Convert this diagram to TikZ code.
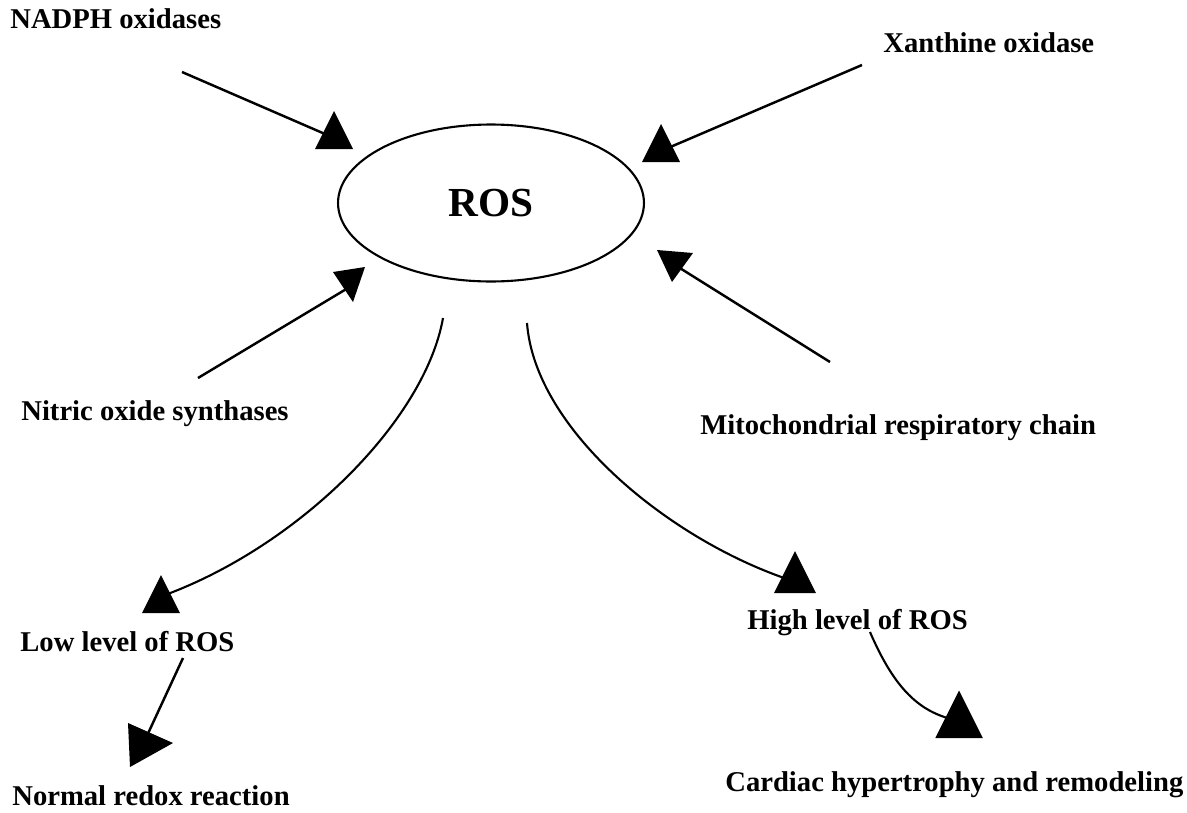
\documentclass[tikz,border=0pt]{standalone}
\usepackage{fontspec}
\setmainfont{Liberation Serif}
\usetikzlibrary{shapes.geometric}

\tikzset{
  caption/.style={anchor=base west, inner sep=0pt, font=\fontsize{16.3}{18}\selectfont\bfseries},
  link/.style={line width=1.4pt},
  curvelink/.style={line width=1.2pt},
  pics/head/.style={code={\fill (-19,0) -- (19,0) -- (0,-38) -- cycle;}}
}

\begin{document}
\begin{tikzpicture}[x=0.02cm, y=-0.02cm]
  \useasboundingbox (0,0) rectangle (1187,812);

  \node [draw, ellipse, line width=1.2pt, minimum width=6.12cm, minimum height=3.14cm,
         font=\fontsize{23.5}{26}\selectfont\bfseries] (ros) at (491,203) { ROS };

  \node [caption] (nadph) at (10,28) { NADPH oxidases };
  \node [caption] (xanthine) at (883,52) { Xanthine oxidase };
  \node [caption] (nos) at (21,420) { Nitric oxide synthases };
  \node [caption] (mito) at (700,434) { Mitochondrial respiratory chain };
  \node [caption] (low) at (20,651) { Low level of ROS };
  \node [caption] (high) at (747,629) { High level of ROS };
  \node [caption] (normal) at (12,805) { Normal redox reaction };
  \node [caption] (cardiac) at (725,791) { Cardiac hypertrophy and remodeling };

  % arrow ends
  \coordinate (sNadph) at (182,72);    \coordinate (eNadph) at (325,134);
  \coordinate (sXan) at (862,65);      \coordinate (eXan) at (668,148);
  \coordinate (sNos) at (198,378);     \coordinate (eNos) at (348,288);
  \coordinate (sMito) at (830,362);    \coordinate (eMito) at (675,265);
  \coordinate (sLow) at (443,318);     \coordinate (eLow) at (165,595);
  \coordinate (sHigh) at (527,323);    \coordinate (eHigh) at (790,580);
  \coordinate (sNormal) at (183,658);  \coordinate (eNormal) at (145,740);
  \coordinate (sCardiac) at (870,632); \coordinate (eCardiac) at (955,720);

  \draw [link] (sNadph) -- (eNadph);
  \draw [link] (sXan) -- (eXan);
  \draw [link] (sNos) -- (eNos);
  \draw [link] (sMito) -- (eMito);
  \draw [curvelink] (sLow) .. controls (425,420) and (300,545) .. (eLow);
  \draw [curvelink] (sHigh) .. controls (535,430) and (670,540) .. (eHigh);
  \draw [link] (sNormal) -- (eNormal);
  \draw [curvelink] (sCardiac) .. controls (895,690) and (920,712) .. (eCardiac);

  % heads
  \pic at (334,149) {head};
  \pic at (661,162) {head};
  \pic at (161,613) {head};
  \pic [scale=1.1] at (795,593) {head};
  \pic [scale=1.25] at (959,738) {head};
  \fill (333,272) -- (365,267) -- (353,302) -- cycle;
  \fill (657,250) -- (693,253) -- (672,282) -- cycle;
  \fill (128,723) -- (173,743) -- (130,767) -- cycle;
\end{tikzpicture}
\end{document}
